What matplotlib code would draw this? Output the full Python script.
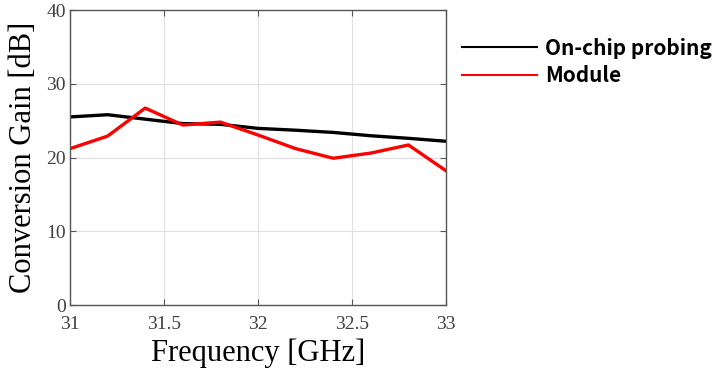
import matplotlib.pyplot as plt
from matplotlib.lines import Line2D

# frequency sweep [GHz] and measured conversion gain [dB]
freq = [31.0, 31.2, 31.4, 31.6, 31.8, 32.0, 32.2, 32.4, 32.6, 32.8, 33.0]
gain_probe = [25.5, 25.8, 25.2, 24.6, 24.5, 23.95, 23.7, 23.4, 22.95, 22.6, 22.2]
gain_module = [21.2, 22.9, 26.7, 24.4, 24.8, 23.05, 21.2, 19.9, 20.6, 21.7, 18.2]

xticks = [31, 31.5, 32, 32.5, 33]
xticklabels = ['31', '31.5', '32', '32.5', '33']
yticks = [0, 10, 20, 30, 40]

serif = ['Liberation Serif', 'DejaVu Serif']
tickgray = '#404040'

fig = plt.figure(figsize=(7.26, 3.72), dpi=100)
ax = fig.add_axes([70/726, 1 - 305/372, 376/726, 295/372])

ax.plot(freq, gain_probe, color='black', lw=2.4, solid_joinstyle='round')
ax.plot(freq, gain_module, color='#ff0000', lw=2.4, solid_joinstyle='round')

ax.set_xlim(31, 33)
ax.set_ylim(0, 40)
ax.set_xticks(xticks)
ax.set_xticklabels(xticklabels)
ax.set_yticks(yticks)
ax.grid(True, color='#e0e0e0', lw=0.8)
ax.tick_params(direction='in', top=True, right=True, length=4, width=0.8,
               color='#555555', labelcolor=tickgray, labelsize=14, pad=3)
ax.tick_params(axis='x', pad=8)
for lab in ax.get_xticklabels() + ax.get_yticklabels():
    lab.set_family(serif)
for sp in ax.spines.values():
    sp.set_color('#555555')
    sp.set_linewidth(1.0)

ax.set_xlabel('Frequency [GHz]', family=serif, fontsize=22, labelpad=4)
ax.set_ylabel('Conversion Gain [dB]', family=serif, fontsize=22, labelpad=6)

handles = [Line2D([], [], color='black', lw=1.5),
           Line2D([], [], color='#ff0000', lw=1.5)]
fig.legend(handles, ['On-chip probing', 'Module'], loc='upper left',
           bbox_to_anchor=(443/726, 1 - 19/372), frameon=False,
           handlelength=3.6, handletextpad=0.4, labelspacing=0.3,
           prop={'family': ['Noto Sans CJK KR', 'DejaVu Sans'],
                 'weight': 'bold', 'size': 15})

fig.savefig('out.png', dpi=100)
